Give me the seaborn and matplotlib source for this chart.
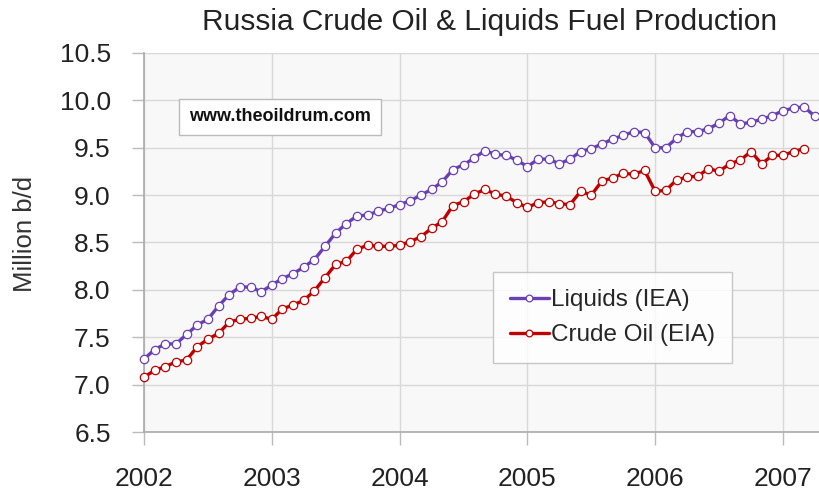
import matplotlib
matplotlib.use("Agg")
import matplotlib.pyplot as plt
import seaborn as sns
import pandas as pd
import numpy as np

# month index 0 = Jan 2002
liquids = [7.27, 7.37, 7.43, 7.43, 7.53, 7.63, 7.69, 7.83, 7.95, 8.03, 8.03, 7.98,
           8.05, 8.12, 8.17, 8.24, 8.32, 8.46, 8.60, 8.70, 8.78, 8.79, 8.83, 8.86,
           8.90, 8.94, 9.00, 9.06, 9.14, 9.27, 9.32, 9.39, 9.47, 9.43, 9.42, 9.37,
           9.30, 9.38, 9.38, 9.33, 9.38, 9.46, 9.49, 9.54, 9.59, 9.63, 9.67, 9.66,
           9.50, 9.50, 9.60, 9.67, 9.67, 9.70, 9.76, 9.84, 9.75, 9.77, 9.80, 9.84,
           9.89, 9.92, 9.93, 9.83, 9.86]
crude = [7.08, 7.15, 7.19, 7.24, 7.26, 7.40, 7.48, 7.54, 7.66, 7.69, 7.70, 7.72,
         7.69, 7.80, 7.84, 7.89, 7.99, 8.13, 8.27, 8.30, 8.43, 8.47, 8.46, 8.46,
         8.47, 8.51, 8.56, 8.65, 8.72, 8.89, 8.93, 9.01, 9.06, 9.01, 8.99, 8.92,
         8.87, 8.92, 8.93, 8.91, 8.90, 9.04, 9.00, 9.15, 9.18, 9.23, 9.22, 9.26,
         9.04, 9.05, 9.16, 9.19, 9.20, 9.28, 9.25, 9.33, 9.37, 9.46, 9.33, 9.42,
         9.42, 9.46, 9.49]
years = ["2002", "2003", "2004", "2005", "2006", "2007"]
series_names = ["Liquids (IEA)", "Crude Oil (EIA)"]
colors = ["#6a3fb5", "#c00000"]

df = pd.concat([
    pd.DataFrame({"month": np.arange(len(liquids)), "value": liquids, "series": series_names[0]}),
    pd.DataFrame({"month": np.arange(len(crude)), "value": crude, "series": series_names[1]}),
])

sns.set_theme(style="white")
plt.rcParams['font.family'] = ['Liberation Sans', 'DejaVu Sans']

fig = plt.figure(figsize=(8.19, 4.91), dpi=100)
ax = fig.add_axes([144/819, 1-432/491, (819-144)/819, (432-53)/491])
ax.set_facecolor("#f8f8f8")

for name, col in zip(series_names, colors):
    sub = df[df.series == name]
    sns.lineplot(data=sub, x="month", y="value", ax=ax, color=col, linewidth=2.4,
                 marker="o", markersize=6, markerfacecolor="white",
                 markeredgecolor=col, markeredgewidth=0.9, label=name,
                 clip_on=False, zorder=3)

ax.set_xlim(0, (819-144)/10.65)
ax.set_ylim(6.5, 10.5)
ax.set_xticks(np.arange(len(years)) * 12)
ax.set_xticklabels(years)
ax.set_yticks(np.arange(6.5, 10.51, 0.5))
ax.set_yticklabels([f"{v:.1f}" for v in np.arange(6.5, 10.51, 0.5)])
ax.grid(True, color="#d8d8d8", linewidth=1)
ax.tick_params(axis="both", labelsize=19, colors="#222222", length=9, width=1,
               direction="out", bottom=True, left=True)
ax.tick_params(axis="x", pad=16, color="#bbbbbb")
ax.tick_params(axis="y", pad=15, color="#bbbbbb")
for s in ["top", "right"]:
    ax.spines[s].set_visible(False)
for s in ["left", "bottom"]:
    ax.spines[s].set_color("#aaaaaa")
    ax.spines[s].set_linewidth(1.2)
ax.set_xlabel("")
ax.set_ylabel("")
fig.text(25/819, 1-234/491, "Million b/d", rotation=90, ha="center", va="center",
         fontsize=18.5, color="#333333")

fig.text(490/819, 1-22/491, "Russia Crude Oil & Liquids Fuel Production",
         ha="center", va="center", fontsize=21.5, color="#222222")

ax.text((189-144)/675, 1-(117-53)/379, "www.theoildrum.com", transform=ax.transAxes,
        ha="left", va="center", fontsize=13, fontweight="bold", color="#111111",
        bbox=dict(boxstyle="square,pad=0.55", facecolor="white", edgecolor="#bbbbbb"))

leg = ax.legend(loc="upper left", bbox_to_anchor=((493-144)/675, 1-(272-53)/379),
                fontsize=17.5, frameon=True, fancybox=False, handlelength=1.6,
                handletextpad=0.1, borderpad=0.7, labelspacing=0.55,
                markerscale=0.8, borderaxespad=0)
leg.get_frame().set_edgecolor("#bbbbbb")
leg.get_frame().set_facecolor("white")
leg.get_frame().set_linewidth(1)

fig.savefig("out.png", dpi=100)
